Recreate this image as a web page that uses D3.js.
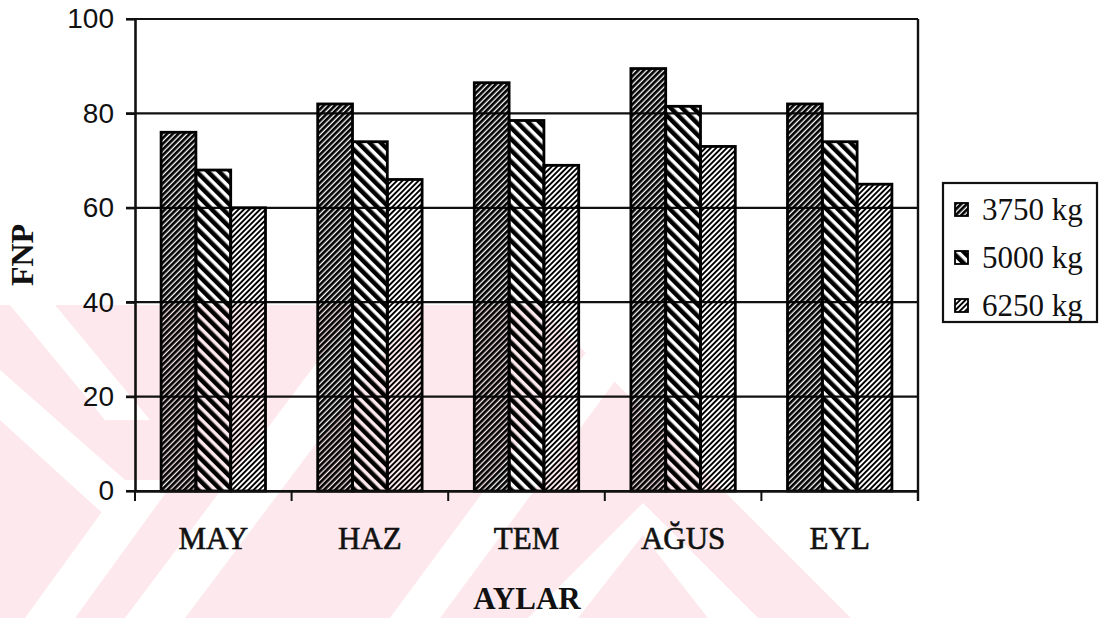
<!DOCTYPE html>
<html>
<head>
<meta charset="utf-8">
<script src="https://cdn.jsdelivr.net/npm/d3@7"></script>
<style>
  html, body { margin: 0; padding: 0; background: #fff; }
  svg { display: block; }
</style>
</head>
<body>
<svg id="chart" width="1115" height="618"></svg>
<script>
// FNP by month for three application rates
const categories = ["MAY", "HAZ", "TEM", "AĞUS", "EYL"];
const seriesNames = ["3750 kg", "5000 kg", "6250 kg"];
const values3750 = [76, 82, 86.5, 89.5, 82];
const values5000 = [68, 74, 78.5, 81.5, 74];
const values6250 = [60, 66, 69, 73, 65];
const yTicks = [0, 20, 40, 60, 80, 100];
const xTitle = "AYLAR";
const yTitle = "FNP";

const series = [values3750, values5000, values6250];

const W = 1115, H = 618;
const plot = { left: 135, right: 918, top: 19, bottom: 491 };

const svg = d3.select("#chart");
svg.append("rect").attr("width", W).attr("height", H).attr("fill", "#fff");

const defs = svg.append("defs");

// hatch fills: period, line width, rotation
const hatch = [
  { id: "h3750", size: 4.0, line: 2.7, angle: 45 },
  { id: "h5000", size: 8.0, line: 4.5, angle: -45 },
  { id: "h6250", size: 3.8, line: 1.9, angle: 45 }
];
hatch.forEach(h => {
  const p = defs.append("pattern")
    .attr("id", h.id)
    .attr("patternUnits", "userSpaceOnUse")
    .attr("width", h.size).attr("height", h.size)
    .attr("patternTransform", `rotate(${h.angle})`);
  p.append("rect").attr("x", 0).attr("y", 0)
    .attr("width", h.line).attr("height", h.size).attr("fill", "#000");
});

// light background emblem in the lower part of the page
const outline = [[0, 305], [538, 305], [851, 618], [0, 618]];
defs.append("clipPath").attr("id", "wmclip")
  .append("polygon").attr("points", outline.map(p => p.join(",")).join(" "));
const wmg = svg.append("g").attr("class", "emblem").attr("clip-path", "url(#wmclip)");
wmg.append("rect").attr("x", 0).attr("y", 305).attr("width", 900).attr("height", 313)
  .attr("fill", "#fde9ed");
// lighter gaps in the emblem
const gaps = [
  [[10, 305], [55, 305], [150, 420], [105, 420]],
  [[0, 370], [0, 420], [110, 520], [125, 480]],
  [[25, 618], [75, 618], [175, 480], [125, 480]],
  [[125, 618], [185, 618], [420, 305], [360, 305]],
  [[390, 618], [440, 618], [660, 320], [610, 320]],
  [[528, 618], [578, 618], [643, 535], [643, 503]],
  [[643, 503], [643, 535], [708, 618], [758, 618]]
];
gaps.forEach(g => {
  wmg.append("polygon").attr("points", g.map(p => p.join(",")).join(" ")).attr("fill", "#fff");
});

const x = d3.scaleBand().domain(categories).range([plot.left, plot.right]).paddingInner(0).paddingOuter(0);
const barW = x.bandwidth() / 4.5;
const xs = d3.scaleBand().domain(seriesNames).range([barW * 0.75, barW * 3.75]).padding(0);
const y = d3.scaleLinear().domain([0, 100]).range([plot.bottom, plot.top]);

// gridlines
svg.append("g").selectAll("line").data(yTicks).join("line")
  .attr("x1", plot.left - 9).attr("x2", plot.right)
  .attr("y1", d => y(d)).attr("y2", d => y(d))
  .attr("stroke", "#111").attr("stroke-width", 2.2);

// bars
const groups = svg.append("g").selectAll("g").data(categories).join("g")
  .attr("transform", d => `translate(${x(d)},0)`);
groups.selectAll("rect")
  .data((c, i) => seriesNames.map((s, j) => ({ s, j, v: series[j][i] })))
  .join("rect")
  .attr("x", d => xs(d.s)).attr("width", xs.bandwidth())
  .attr("y", d => y(d.v)).attr("height", d => y(0) - y(d.v))
  .attr("fill", d => `url(#${hatch[d.j].id})`)
  .attr("stroke", "#000").attr("stroke-width", 2.8);

// axes
const yAxis = d3.axisLeft(y).tickValues(yTicks).tickSize(9).tickSizeOuter(0).tickPadding(12);
const gy = svg.append("g").attr("transform", `translate(${plot.left},0)`).call(yAxis);
gy.select(".domain").attr("stroke", "#111").attr("stroke-width", 2.6);
gy.selectAll(".tick line").attr("stroke", "#111").attr("stroke-width", 2.2);
gy.selectAll(".tick text")
  .attr("font-family", "'Liberation Sans', Arial, sans-serif")
  .attr("font-size", 28).attr("fill", "#111");

const xAxis = d3.axisBottom(x).tickSize(0).tickPadding(36).tickSizeOuter(0);
const gx = svg.append("g").attr("transform", `translate(0,${plot.bottom})`).call(xAxis);
gx.select(".domain").attr("stroke", "#111").attr("stroke-width", 2.6);
gx.selectAll(".tick text")
  .attr("font-family", "'Liberation Serif', 'Times New Roman', serif")
  .attr("font-size", 31).attr("fill", "#111")
  .attr("stroke", "#111").attr("stroke-width", 0.6);

// category separators below the axis
const bounds = categories.map(c => x(c)).concat([plot.right]);
svg.append("g").selectAll("line").data(bounds).join("line")
  .attr("x1", d => d).attr("x2", d => d)
  .attr("y1", plot.bottom).attr("y2", plot.bottom + 10)
  .attr("stroke", "#111").attr("stroke-width", 2);

// plot frame: right edge
svg.append("line").attr("x1", plot.right).attr("x2", plot.right)
  .attr("y1", plot.top).attr("y2", plot.bottom + 10)
  .attr("stroke", "#111").attr("stroke-width", 2.4);

// titles
svg.append("text").attr("x", (plot.left + plot.right) / 2 + 0.5).attr("y", 609)
  .attr("text-anchor", "middle")
  .attr("font-family", "'Liberation Serif', 'Times New Roman', serif")
  .attr("font-weight", "bold").attr("font-size", 31).attr("fill", "#111")
  .text(xTitle);
svg.append("text").attr("transform", `translate(33,${(plot.top + plot.bottom) / 2}) rotate(-90)`)
  .attr("text-anchor", "middle")
  .attr("font-family", "'Liberation Serif', 'Times New Roman', serif")
  .attr("font-weight", "bold").attr("font-size", 32).attr("fill", "#111")
  .text(yTitle);

// legend
const lg = svg.append("g").attr("transform", "translate(943,183)");
lg.append("rect").attr("width", 154).attr("height", 139)
  .attr("fill", "#fff").attr("stroke", "#111").attr("stroke-width", 2.2);
const rows = lg.selectAll("g").data(seriesNames).join("g")
  .attr("transform", (d, i) => `translate(0,${26 + i * 48})`);
rows.append("rect").attr("x", 12).attr("y", -6).attr("width", 13).attr("height", 13)
  .attr("fill", (d, i) => `url(#${hatch[i].id})`)
  .attr("stroke", "#000").attr("stroke-width", 1.8);
rows.append("text").attr("x", 39).attr("y", 11)
  .attr("font-family", "'Liberation Serif', 'Times New Roman', serif")
  .attr("font-size", 31).attr("fill", "#111")
  .text(d => d);
</script>
</body>
</html>
